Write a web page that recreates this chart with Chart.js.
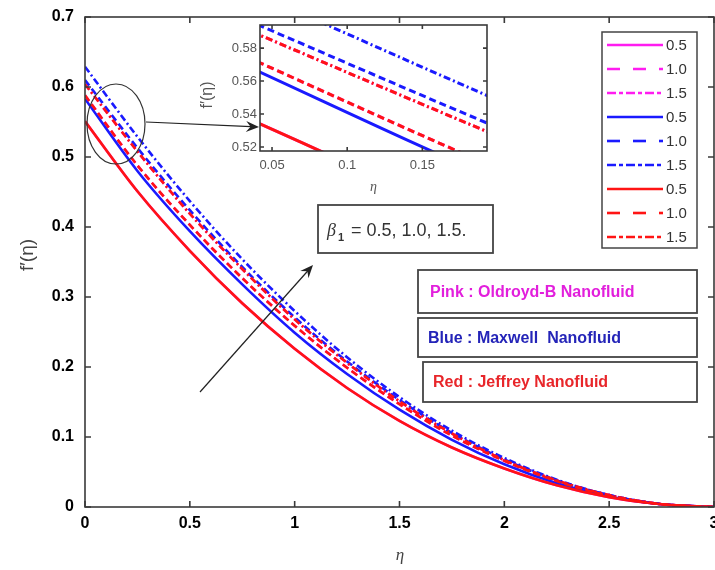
<!DOCTYPE html>
<html>
<head>
<meta charset="utf-8">
<script src="https://cdn.jsdelivr.net/npm/chart.js@4"></script>
<style>
  body { margin: 0; background: #fff; }
  #wrap { position: relative; width: 715px; height: 570px; }
  #main { position: absolute; left: 0; top: 0; }
  #inset { position: absolute; left: 190px; top: 12px; }
</style>
</head>
<body>
<div id="wrap">
  <canvas id="main" width="715" height="570"></canvas>
  <canvas id="inset" width="305" height="195"></canvas>
</div>
<script>
// similarity variable and velocity profiles f'(eta)
const eta = [0, 0.25, 0.5, 0.75, 1, 1.25, 1.5, 1.75, 2, 2.25, 2.5, 2.75, 3];
const betaValues = ['0.5', '1.0', '1.5'];

// Oldroyd-B (pink) - runs under the Jeffrey curves
const pinkSolid   = [0.551, 0.451, 0.366, 0.291, 0.226, 0.170, 0.123, 0.085, 0.055, 0.031, 0.014, 0.004, 0];
const pinkDash    = [0.588, 0.488, 0.403, 0.327, 0.259, 0.199, 0.147, 0.102, 0.066, 0.037, 0.016, 0.004, 0];
const pinkDashDot = [0.604, 0.508, 0.419, 0.340, 0.268, 0.206, 0.151, 0.105, 0.067, 0.038, 0.017, 0.004, 0];
// Maxwell (blue)
const blueSolid   = [0.583, 0.480, 0.394, 0.318, 0.249, 0.190, 0.139, 0.096, 0.061, 0.034, 0.015, 0.004, 0];
const blueDash    = [0.610, 0.513, 0.424, 0.343, 0.271, 0.208, 0.153, 0.106, 0.068, 0.038, 0.017, 0.004, 0];
const blueDashDot = [0.629, 0.529, 0.437, 0.354, 0.280, 0.214, 0.157, 0.109, 0.070, 0.039, 0.017, 0.004, 0];
// Jeffrey (red)
const redSolid    = [0.551, 0.451, 0.366, 0.291, 0.226, 0.170, 0.123, 0.085, 0.055, 0.031, 0.014, 0.004, 0];
const redDash     = [0.588, 0.488, 0.403, 0.327, 0.259, 0.199, 0.147, 0.102, 0.066, 0.037, 0.016, 0.004, 0];
const redDashDot  = [0.604, 0.508, 0.419, 0.340, 0.268, 0.206, 0.151, 0.105, 0.067, 0.038, 0.017, 0.004, 0];

const xTicks = [0, 0.5, 1, 1.5, 2, 2.5, 3];
const xTickLabels = ['0', '0.5', '1', '1.5', '2', '2.5', '3'];
const yTicks = [0, 0.1, 0.2, 0.3, 0.4, 0.5, 0.6, 0.7];
const yTickLabels = ['0', '0.1', '0.2', '0.3', '0.4', '0.5', '0.6', '0.7'];
const insetXTicks = [0.05, 0.1, 0.15];
const insetXTickLabels = ['0.05', '0.1', '0.15'];
const insetYTicks = [0.52, 0.54, 0.56, 0.58];
const insetYTickLabels = ['0.52', '0.54', '0.56', '0.58'];

const PINK = '#ff1cf0';
const BLUE = '#1a1aff';
const RED = '#ff1414';
const SANS = '"Liberation Sans", Arial, sans-serif';

const DASH = [7, 4];
const DASHDOT = [7, 3, 2, 3];

function series(values, color, dash, legendDash, label, order) {
  return {
    label: label,
    data: eta.map((x, i) => ({ x: x, y: values[i] })),
    borderColor: color,
    borderWidth: 2.6,
    borderDash: dash,
    legendDash: legendDash,
    pointRadius: 0,
    cubicInterpolationMode: 'monotone',
    fill: false,
    order: order
  };
}

function makeDatasets() {
  // red on top, pink underneath
  return [
    series(pinkSolid, PINK, [], [], betaValues[0], 2),
    series(pinkDash, PINK, DASH, [13, 13], betaValues[1], 2),
    series(pinkDashDot, PINK, DASHDOT, [9, 3, 4, 3], betaValues[2], 2),
    series(blueSolid, BLUE, [], [], betaValues[0], 1),
    series(blueDash, BLUE, DASH, [13, 13], betaValues[1], 1),
    series(blueDashDot, BLUE, DASHDOT, [9, 3, 4, 3], betaValues[2], 1),
    series(redSolid, RED, [], [], betaValues[0], 0),
    series(redDash, RED, DASH, [13, 13], betaValues[1], 0),
    series(redDashDot, RED, DASHDOT, [9, 3, 4, 3], betaValues[2], 0)
  ];
}

function arrow(ctx, x1, y1, x2, y2) {
  const a = Math.atan2(y2 - y1, x2 - x1);
  const len = 13, half = 5.5;
  ctx.beginPath();
  ctx.moveTo(x1, y1);
  ctx.lineTo(x2 - Math.cos(a) * 8, y2 - Math.sin(a) * 8);
  ctx.stroke();
  ctx.save();
  ctx.translate(x2, y2);
  ctx.rotate(a);
  ctx.beginPath();
  ctx.moveTo(0, 0);
  ctx.lineTo(-len, -half);
  ctx.lineTo(-len * 0.65, 0);
  ctx.lineTo(-len, half);
  ctx.closePath();
  ctx.fill();
  ctx.restore();
}

function boxFrame(ctx, area, ticksX, ticksY, sx, sy, tl) {
  ctx.save();
  ctx.strokeStyle = '#3a3a3a';
  ctx.lineWidth = 1.6;
  ctx.strokeRect(area.left, area.top, area.right - area.left, area.bottom - area.top);
  ctx.beginPath();
  ticksX.forEach(v => {
    const px = sx.getPixelForValue(v);
    ctx.moveTo(px, area.bottom); ctx.lineTo(px, area.bottom - tl);
    ctx.moveTo(px, area.top); ctx.lineTo(px, area.top + tl);
  });
  ticksY.forEach(v => {
    const py = sy.getPixelForValue(v);
    ctx.moveTo(area.left, py); ctx.lineTo(area.left + tl, py);
    ctx.moveTo(area.right, py); ctx.lineTo(area.right - tl, py);
  });
  ctx.stroke();
  ctx.restore();
}

const mainDecor = {
  id: 'mainDecor',
  beforeDraw(chart) {
    const ctx = chart.ctx;
    ctx.save();
    ctx.fillStyle = '#fff';
    ctx.fillRect(0, 0, chart.width, chart.height);
    ctx.restore();
  },
  afterDatasetsDraw(chart) {
    const ctx = chart.ctx;
    const area = chart.chartArea;
    const sx = chart.scales.x, sy = chart.scales.y;
    boxFrame(ctx, area, xTicks, yTicks, sx, sy, 6);

    ctx.save();
    // ellipse around the curves near the wall
    ctx.strokeStyle = '#333';
    ctx.lineWidth = 1.2;
    ctx.beginPath();
    ctx.ellipse(116, 124, 29, 40, 0, 0, Math.PI * 2);
    ctx.stroke();

    ctx.fillStyle = '#222';
    ctx.strokeStyle = '#222';
    arrow(ctx, 146, 122, 259, 127);
    arrow(ctx, 200, 392, 313, 265);

    // beta box
    ctx.fillStyle = '#fff';
    ctx.fillRect(318, 205, 175, 48);
    ctx.strokeStyle = '#444';
    ctx.lineWidth = 1.8;
    ctx.strokeRect(318, 205, 175, 48);
    ctx.fillStyle = '#333';
    ctx.textBaseline = 'alphabetic';
    ctx.textAlign = 'left';
    ctx.font = 'italic 18px "Liberation Serif", serif';
    ctx.fillText('\u03B2', 327, 236);
    ctx.font = 'bold 11px ' + SANS;
    ctx.fillText('1', 338, 241);
    ctx.font = '18px ' + SANS;
    ctx.fillText('= ' + betaValues.join(', ') + '.', 351, 236);

    // fluid boxes
    const boxes = [
      { x: 418, y: 270, w: 279, h: 43, text: 'Pink : Oldroyd-B Nanofluid', color: '#e21fdc', tx: 430, mw: 245 },
      { x: 418, y: 318, w: 279, h: 39, text: 'Blue : Maxwell  Nanofluid', color: '#2424b8', tx: 428, mw: 230 },
      { x: 423, y: 362, w: 274, h: 40, text: 'Red : Jeffrey Nanofluid', color: '#e8262a', tx: 433, mw: 209 }
    ];
    boxes.forEach(b => {
      ctx.fillStyle = '#fff';
      ctx.fillRect(b.x, b.y, b.w, b.h);
      ctx.strokeStyle = '#444';
      ctx.lineWidth = 1.8;
      ctx.strokeRect(b.x, b.y, b.w, b.h);
      ctx.fillStyle = b.color;
      ctx.font = 'bold 16px ' + SANS;
      ctx.textBaseline = 'middle';
      ctx.fillText(b.text, b.tx, b.y + b.h / 2 + 1, b.mw);
    });

    // legend
    const lx = 602, ly = 32, lw = 95, lh = 216;
    ctx.fillStyle = '#fff';
    ctx.fillRect(lx, ly, lw, lh);
    ctx.strokeStyle = '#444';
    ctx.lineWidth = 1.5;
    ctx.strokeRect(lx, ly, lw, lh);
    chart.data.datasets.forEach((ds, i) => {
      const y = 45 + i * 24;
      ctx.strokeStyle = ds.borderColor;
      ctx.lineWidth = 2.6;
      ctx.setLineDash(ds.legendDash);
      ctx.beginPath();
      ctx.moveTo(607, y);
      ctx.lineTo(663, y);
      ctx.stroke();
      ctx.setLineDash([]);
      ctx.fillStyle = '#333';
      ctx.font = '15px ' + SANS;
      ctx.textBaseline = 'middle';
      ctx.fillText(ds.label, 666, y + 1);
    });

    // axis titles
    ctx.fillStyle = '#444';
    ctx.textAlign = 'center';
    ctx.textBaseline = 'middle';
    ctx.font = 'italic 17px "Liberation Serif", serif';
    ctx.fillText('\u03B7', 400, 556);
    ctx.translate(28, 255);
    ctx.rotate(-Math.PI / 2);
    ctx.font = '19px ' + SANS;
    ctx.fillText('f\u2032(\u03B7)', 0, 0);
    ctx.restore();
  }
};

const insetDecor = {
  id: 'insetDecor',
  beforeDatasetsDraw(chart) {
    const ctx = chart.ctx;
    const a = chart.chartArea;
    ctx.save();
    ctx.fillStyle = '#fff';
    ctx.fillRect(a.left, a.top, a.right - a.left, a.bottom - a.top);
    ctx.restore();
  },
  afterDatasetsDraw(chart) {
    const ctx = chart.ctx;
    const a = chart.chartArea;
    boxFrame(ctx, a, insetXTicks, insetYTicks, chart.scales.x, chart.scales.y, 4);
    ctx.save();
    ctx.fillStyle = '#555';
    ctx.textAlign = 'center';
    ctx.textBaseline = 'middle';
    ctx.font = 'italic 14px "Liberation Serif", serif';
    ctx.fillText('\u03B7', (a.left + a.right) / 2, 175);
    ctx.translate(18, 83);
    ctx.rotate(-Math.PI / 2);
    ctx.font = '16px ' + SANS;
    ctx.fillText('f\u2032(\u03B7)', 0, 0);
    ctx.restore();
  }
};

function fixedTicks(values) {
  return scale => { scale.ticks = values.map(v => ({ value: v })); };
}

new Chart(document.getElementById('main').getContext('2d'), {
  type: 'line',
  data: { datasets: makeDatasets() },
  options: {
    responsive: false,
    animation: false,
    events: [],
    layout: { padding: { top: 17, right: 1, left: 0, bottom: 0 } },
    plugins: { legend: { display: false }, tooltip: { enabled: false } },
    scales: {
      x: {
        type: 'linear', min: 0, max: 3,
        afterBuildTicks: fixedTicks(xTicks),
        afterFit: s => { s.height = 63; s.paddingLeft = 0; s.paddingRight = 0; },
        grid: { display: false, drawTicks: false },
        border: { display: false },
        ticks: {
          color: '#000', padding: 7, maxRotation: 0, autoSkip: false,
          font: { family: SANS, size: 16, weight: 'bold' },
          callback: (v, i) => xTickLabels[i]
        }
      },
      y: {
        type: 'linear', min: 0, max: 0.7,
        afterBuildTicks: fixedTicks(yTicks),
        afterFit: s => { s.width = 85; s.paddingTop = 0; s.paddingBottom = 0; },
        grid: { display: false, drawTicks: false },
        border: { display: false },
        ticks: {
          color: '#000', padding: 11, autoSkip: false,
          font: { family: SANS, size: 16, weight: 'bold' },
          callback: (v, i) => yTickLabels[i]
        }
      }
    }
  },
  plugins: [mainDecor]
});

new Chart(document.getElementById('inset').getContext('2d'), {
  type: 'line',
  data: { datasets: makeDatasets().map(d => Object.assign(d, { borderWidth: 3 })) },
  options: {
    responsive: false,
    animation: false,
    events: [],
    layout: { padding: { top: 13, right: 8, left: 0, bottom: 0 } },
    plugins: { legend: { display: false }, tooltip: { enabled: false } },
    scales: {
      x: {
        type: 'linear', min: 0.042, max: 0.193,
        afterBuildTicks: fixedTicks(insetXTicks),
        afterFit: s => { s.height = 56; s.paddingLeft = 0; s.paddingRight = 0; },
        grid: { display: false, drawTicks: false },
        border: { display: false },
        ticks: {
          color: '#555', padding: 7, maxRotation: 0, autoSkip: false,
          font: { family: SANS, size: 13 },
          callback: (v, i) => insetXTickLabels[i]
        }
      },
      y: {
        type: 'linear', min: 0.5176, max: 0.594,
        afterBuildTicks: fixedTicks(insetYTicks),
        afterFit: s => { s.width = 70; s.paddingTop = 0; s.paddingBottom = 0; },
        grid: { display: false, drawTicks: false },
        border: { display: false },
        ticks: {
          color: '#555', padding: 3, autoSkip: false,
          font: { family: SANS, size: 13 },
          callback: (v, i) => insetYTickLabels[i]
        }
      }
    }
  },
  plugins: [insetDecor]
});
</script>
</body>
</html>
